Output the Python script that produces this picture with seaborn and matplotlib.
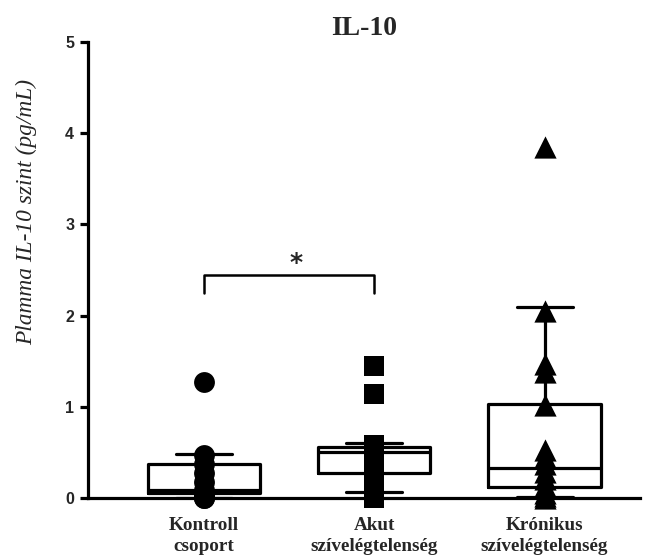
import numpy as np
import pandas as pd
import matplotlib
matplotlib.use("Agg")
import matplotlib.pyplot as plt
import seaborn as sns

# ---- data ----
categories = ["Kontroll\ncsoport", "Akut\nszívelégtelenség", "Krónikus\nszívelégtelenség"]
kontroll = [1.27, 0.47, 0.37, 0.27, 0.18, 0.09, 0.05, 0.02, 0.0, 0.0]
akut = [1.45, 1.14, 0.58, 0.52, 0.46, 0.40, 0.33, 0.26, 0.19, 0.12, 0.06, 0.02, 0.0]
kronikus = [3.85, 2.05, 1.47, 1.38, 1.02, 0.53, 0.45, 0.37, 0.29, 0.21, 0.13, 0.06, 0.02, 0.0]

# box summaries: q1, median, q3, whisker low, whisker high
q1 = [0.06, 0.28, 0.12]
med = [0.09, 0.51, 0.33]
q3 = [0.37, 0.56, 1.03]
whislo = [0.0, 0.07, 0.01]
whishi = [0.48, 0.60, 2.09]

title = "IL-10"
ylabel = "Plamma IL-10 szint (pg/mL)"
yticks = [0, 1, 2, 3, 4, 5]
sig_pair = (0, 1)
sig_text = "*"
sig_y = 2.45
sig_drop = 0.2

markers = ["o", "s", "^"]
msizes = [15, 15, 16]

sns.set_theme(style="ticks")
plt.rcParams["font.family"] = ["Liberation Serif", "DejaVu Serif"]

fig = plt.figure(figsize=(6.58, 5.59), dpi=100)
ax = fig.add_axes([0.1337, 0.109, 0.839, 0.816])

df = pd.DataFrame({
    "group": [categories[0]] * len(kontroll) + [categories[1]] * len(akut) + [categories[2]] * len(kronikus),
    "value": kontroll + akut + kronikus,
})

lw = 2.3
stats = []
for i in range(3):
    stats.append(dict(q1=q1[i], med=med[i], q3=q3[i], whislo=whislo[i], whishi=whishi[i], fliers=[]))
ax.bxp(stats, positions=[0, 1, 2], widths=0.66, showfliers=False, patch_artist=False,
       boxprops=dict(color="black", linewidth=lw),
       medianprops=dict(color="black", linewidth=lw),
       whiskerprops=dict(color="black", linewidth=lw),
       capprops=dict(color="black", linewidth=lw), zorder=2)

for i, cat in enumerate(categories):
    sub = df[df["group"] == cat]
    sns.stripplot(data=sub, x="group", y="value", order=categories, jitter=False,
                  marker=markers[i], size=msizes[i], color="black", linewidth=0,
                  ax=ax, zorder=3, clip_on=False)

ax.set_xlim(-0.68, 2.56)
ax.set_ylim(0, 5)
ax.set_yticks(yticks)
ax.set_xticks([0, 1, 2])
ax.set_xticklabels(categories, fontsize=13.8, fontweight="bold", family=["Liberation Serif"], linespacing=1.3)
for lab in ax.get_yticklabels():
    lab.set_fontfamily(["Liberation Sans"])
    lab.set_fontweight("bold")
    lab.set_fontsize(11.5)
ax.tick_params(axis="y", length=6, width=lw, color="black", pad=4)
ax.tick_params(axis="x", length=5, width=lw, color="black", pad=8.5)
ax.set_xlabel("")
ax.set_ylabel(ylabel, fontsize=16.8, fontstyle="italic", family=["Liberation Serif"])
ax.yaxis.set_label_coords(-0.092, 0.627)
ax.set_title(title, fontsize=20, fontweight="bold", family=["Liberation Serif"], pad=5)

for s in ["top", "right"]:
    ax.spines[s].set_visible(False)
for s in ["left", "bottom"]:
    ax.spines[s].set_linewidth(lw)
    ax.spines[s].set_color("black")

x0, x1 = sig_pair
ax.plot([x0, x0, x1, x1], [sig_y - sig_drop, sig_y, sig_y, sig_y - sig_drop], color="black", lw=1.8)
ax.text((x0 + x1) / 2 + 0.04, sig_y + 0.13, sig_text, ha="center", va="center", fontsize=18, fontweight="bold",
        family=["DejaVu Sans"])

fig.savefig("out.png", dpi=100)
